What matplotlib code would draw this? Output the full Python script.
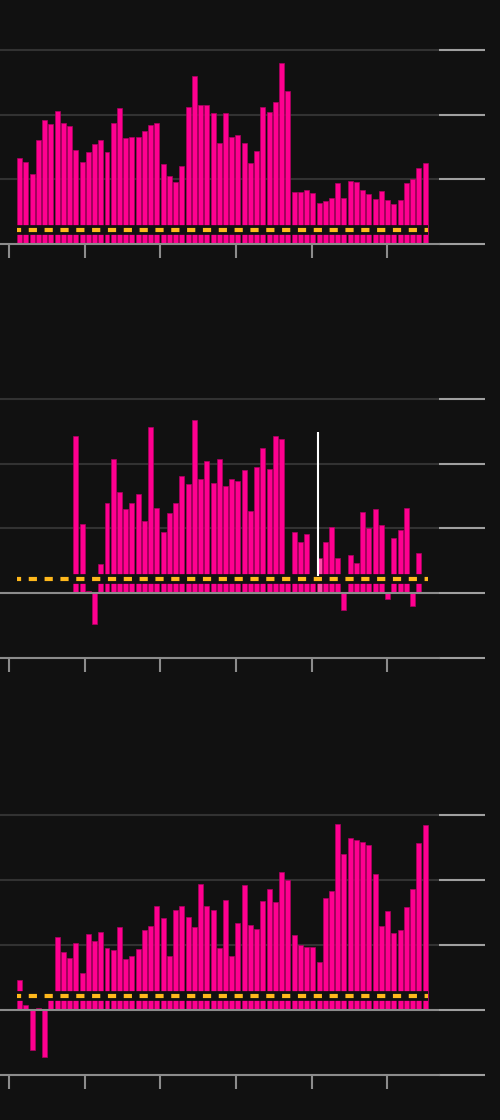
"""Three stacked monthly bar panels with a dashed target line, dark theme."""

import matplotlib

matplotlib.use("Agg")
import matplotlib.pyplot as plt  # noqa: E402
import numpy as np  # noqa: E402

nan = np.nan

# monthly values, one list per panel (66 months each)
top_vals = [
    1.33, 1.27, 1.09, 1.61, 1.91, 1.85, 2.05, 1.87, 1.82, 1.45, 1.27, 1.42,
    1.55, 1.61, 1.42, 1.87, 2.10, 1.64, 1.66, 1.65, 1.74, 1.84, 1.87, 1.24,
    1.05, 0.96, 1.20, 2.11, 2.59, 2.14, 2.15, 2.03, 1.56, 2.02, 1.65, 1.69,
    1.56, 1.26, 1.44, 2.12, 2.04, 2.19, 2.79, 2.36, 0.81, 0.81, 0.84, 0.79,
    0.64, 0.66, 0.72, 0.94, 0.71, 0.97, 0.96, 0.84, 0.77, 0.70, 0.82, 0.68,
    0.62, 0.69, 0.94, 1.01, 1.18, 1.26,
]
mid_vals = [
    nan, nan, nan, nan, nan, nan, nan, nan, nan, 2.42, 1.07, 0.03,
    -0.47, 0.45, 1.39, 2.07, 1.56, 1.30, 1.39, 1.53, 1.12, 2.56, 1.32, 0.95,
    1.24, 1.40, 1.81, 1.69, 2.67, 1.77, 2.04, 1.70, 2.07, 1.65, 1.77, 1.73,
    1.90, 1.27, 1.94, 2.24, 1.92, 2.42, 2.38, 0.22, 0.94, 0.79, 0.92, 0.22,
    0.54, 0.79, 1.02, 0.54, -0.26, 0.59, 0.47, 1.26, 1.01, 1.30, 1.05, -0.08,
    0.86, 0.97, 1.32, -0.19, 0.63, nan,
]
bottom_vals = [
    0.47, 0.08, -0.62, 0.04, -0.73, 0.22, 1.13, 0.90, 0.81, 1.04, 0.57, 1.17,
    1.07, 1.21, 0.96, 0.92, 1.28, 0.79, 0.84, 0.94, 1.23, 1.29, 1.60, 1.42,
    0.83, 1.54, 1.61, 1.43, 1.28, 1.94, 1.60, 1.54, 0.96, 1.69, 0.83, 1.34,
    1.93, 1.31, 1.25, 1.68, 1.86, 1.67, 2.13, 2.01, 1.16, 1.01, 0.97, 0.97,
    0.74, 1.73, 1.84, 2.87, 2.41, 2.65, 2.62, 2.59, 2.54, 2.10, 1.30, 1.52,
    1.19, 1.23, 1.59, 1.86, 2.57, 2.85,
]
target = [0.22, 0.22, 0.22]
# year boundaries, in month-index units
year_ticks = [-1.72, 10.42, 22.56, 34.70, 46.84, 58.98]
# hovered month in the middle panel and the top of its crosshair
hover_idx = 48
hover_top = 2.48

BG = "#111111"
PINK = "#ff0090"
PINK_EDGE = "#b00062"
PINK_HI = "#ff4aa8"
ORANGE = "#ffb81c"
GRID = "#323232"
AXIS = "#8c8c8c"
TICK = "#a0a0a0"

W, H = 500, 1120
PX_PER_BAR = 6.236
FIRST_BAR_PX = 19.7
AX_RIGHT_PX = 438.7


def draw_panel(ax, vals, tgt, ymin, hover=None):
    x = np.arange(len(vals))
    vals = np.asarray(vals, dtype=float)
    colors = [PINK] * len(vals)
    if hover is not None:
        colors[hover] = PINK_HI
    ax.bar(x, vals, width=0.8, color=colors, edgecolor=PINK_EDGE, linewidth=0.5, zorder=2)

    # target line: dark backing band then orange dashes
    xs = [x[0] - 0.4, x[-1] + 0.4]
    ax.plot(xs, [tgt, tgt], color=BG, lw=7.0, solid_capstyle="butt", zorder=3)
    ax.plot(xs, [tgt, tgt], color=ORANGE, lw=3.0, linestyle=(0.98, (1.97, 1.83)),
            dash_capstyle="butt", zorder=4)

    if hover is not None:
        ax.vlines(x[hover] - 0.2, tgt + 0.05, hover_top, color="white", lw=1.5, zorder=5)

    if ymin < 0:
        ax.axhline(0, color=AXIS, lw=1.5, zorder=2.6)

    ax.set_xlim(-FIRST_BAR_PX / PX_PER_BAR, (AX_RIGHT_PX - FIRST_BAR_PX) / PX_PER_BAR)
    ax.set_ylim(ymin, 3.25)
    ax.set_facecolor(BG)
    ax.set_yticks(np.arange(ymin, 4, 1))
    ax.yaxis.tick_right()
    ax.tick_params(axis="y", direction="out", length=33, width=1.5, color=TICK,
                   labelright=False, labelleft=False)
    ax.set_xticks(year_ticks)
    ax.tick_params(axis="x", direction="out", length=10, width=1.5, color=AXIS,
                   labelbottom=False)
    ax.grid(axis="y", color=GRID, lw=1.5)
    ax.set_axisbelow(True)
    for side in ("top", "left", "right"):
        ax.spines[side].set_visible(False)
    ax.spines["bottom"].set_color(AXIS)
    ax.spines["bottom"].set_linewidth(1.5)


fig = plt.figure(figsize=(W / 100, H / 100), dpi=100, facecolor=BG)
width = AX_RIGHT_PX / W
panels = [
    (top_vals, target[0], 0, 244.3, None),
    (mid_vals, target[1], -1, 658.3, hover_idx),
    (bottom_vals, target[2], -1, 1075.0, None),
]
for vals, tgt, ymin, base_px, hover in panels:
    h_px = (3.25 - ymin) * 64.9
    ax = fig.add_axes([0, 1 - base_px / H, width, h_px / H])
    draw_panel(ax, vals, tgt, ymin, hover)

fig.savefig("out.png", dpi=100, facecolor=BG)
plt.close(fig)
